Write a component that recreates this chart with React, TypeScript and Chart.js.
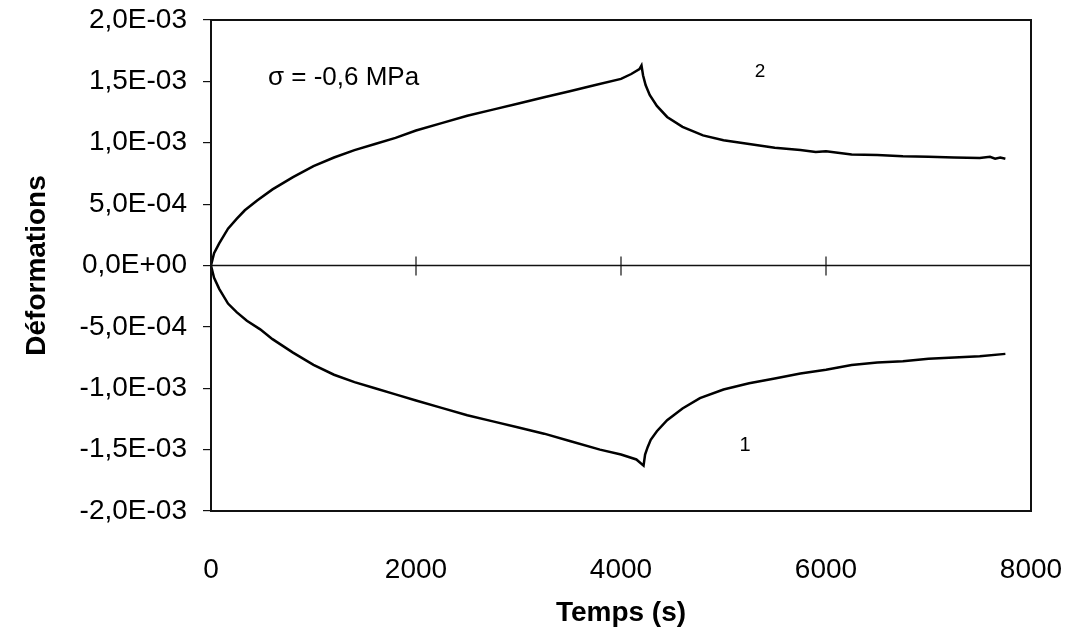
import React, { useEffect, useRef } from "react";
import { Chart, registerables } from "chart.js";

Chart.register(...registerables);

// Series 2 (upper curve), deformation in units of 1e-3
const timesUpper = [0, 30, 80, 166, 250, 330, 450, 600, 800, 1000, 1200, 1400, 1600, 1800, 2000, 2250, 2500, 2750, 3000, 3250, 3500, 3750, 4000, 4100, 4180, 4200, 4215, 4240, 4280, 4350, 4450, 4600, 4800, 5000, 5250, 5500, 5750, 5900, 6000, 6250, 6500, 6750, 7000, 7250, 7500, 7600, 7650, 7700, 7750];
const valuesUpper = [0, 0.10, 0.18, 0.30, 0.38, 0.45, 0.53, 0.62, 0.72, 0.81, 0.88, 0.94, 0.99, 1.04, 1.10, 1.16, 1.22, 1.27, 1.32, 1.37, 1.42, 1.47, 1.52, 1.56, 1.60, 1.63, 1.55, 1.47, 1.39, 1.30, 1.21, 1.13, 1.06, 1.02, 0.99, 0.96, 0.94, 0.925, 0.93, 0.905, 0.90, 0.89, 0.885, 0.88, 0.875, 0.885, 0.87, 0.88, 0.87];

// Series 1 (lower curve), deformation in units of 1e-3
const timesLower = [0, 30, 80, 166, 250, 350, 480, 600, 800, 1000, 1200, 1400, 1600, 1800, 2000, 2250, 2500, 2750, 3000, 3250, 3500, 3795, 4000, 4150, 4220, 4235, 4260, 4290, 4350, 4450, 4600, 4770, 5000, 5250, 5500, 5750, 6000, 6250, 6500, 6750, 7000, 7250, 7500, 7750];
const valuesLower = [0, -0.10, -0.19, -0.31, -0.38, -0.45, -0.52, -0.60, -0.71, -0.81, -0.89, -0.95, -1.00, -1.05, -1.10, -1.16, -1.22, -1.27, -1.32, -1.37, -1.43, -1.50, -1.54, -1.58, -1.63, -1.54, -1.48, -1.42, -1.35, -1.26, -1.165, -1.08, -1.01, -0.96, -0.92, -0.88, -0.85, -0.81, -0.79, -0.78, -0.76, -0.75, -0.74, -0.72];

const UNIT = 1e-3;

const xTicks = [0, 2000, 4000, 6000, 8000];

// Annotations: text, x (s), y (units of 1e-3)
const annotTexts = ["σ = -0,6 MPa", "2", "1"];
const annotX = [556, 5356, 5210];
const annotY = [1.53, 1.58, -1.47];
const annotSizes = [26, 19, 20];

const FONT = "'Liberation Sans', Arial, Helvetica, sans-serif";

function fmtSci(v: number): string {
  if (Math.abs(v) < 1e-12) return "0,0E+00";
  const e = Math.floor(Math.log10(Math.abs(v)) + 1e-9);
  const m = v / Math.pow(10, e);
  return m.toFixed(1).replace(".", ",") + "E" + (e < 0 ? "-" : "+") + String(Math.abs(e)).padStart(2, "0");
}

const framePlugin = {
  id: "frame",
  beforeDatasetsDraw(chart: any) {
    const { ctx, chartArea, scales } = chart;
    const x = scales.x;
    const y = scales.y;
    const y0 = y.getPixelForValue(0);
    ctx.save();
    ctx.strokeStyle = "#111";
    ctx.lineWidth = 1.5;
    ctx.beginPath();
    ctx.moveTo(chartArea.left, y0);
    ctx.lineTo(chartArea.right, y0);
    ctx.stroke();
    ctx.lineWidth = 1.2;
    for (const t of xTicks) {
      if (t === 0 || t === 8000) continue;
      const px = x.getPixelForValue(t);
      ctx.beginPath();
      ctx.moveTo(px, y0 - 9);
      ctx.lineTo(px, y0 + 10);
      ctx.stroke();
    }
    ctx.restore();
  },
  afterDatasetsDraw(chart: any) {
    const { ctx, chartArea, scales } = chart;
    ctx.save();
    ctx.strokeStyle = "#111";
    ctx.lineWidth = 2;
    ctx.strokeRect(chartArea.left, chartArea.top, chartArea.right - chartArea.left, chartArea.bottom - chartArea.top);
    ctx.fillStyle = "#000";
    ctx.textBaseline = "middle";
    for (let i = 0; i < annotTexts.length; i++) {
      ctx.font = `${annotSizes[i]}px ${FONT}`;
      const px = scales.x.getPixelForValue(annotX[i]);
      const py = scales.y.getPixelForValue(annotY[i] * UNIT);
      ctx.textAlign = i === 0 ? "left" : "center";
      ctx.fillText(annotTexts[i], px, py);
    }
    ctx.restore();
  },
};

export default function App() {
  const canvasRef = useRef<HTMLCanvasElement | null>(null);

  useEffect(() => {
    const canvas = canvasRef.current;
    if (!canvas) return;
    const upper = timesUpper.map((t, i) => ({ x: t, y: valuesUpper[i] * UNIT }));
    const lower = timesLower.map((t, i) => ({ x: t, y: valuesLower[i] * UNIT }));
    const chart = new Chart(canvas, {
      type: "line",
      data: {
        datasets: [
          {
            label: "2",
            data: upper,
            borderColor: "#000",
            borderWidth: 2.5,
            pointRadius: 0,
            tension: 0,
            fill: false,
          },
          {
            label: "1",
            data: lower,
            borderColor: "#000",
            borderWidth: 2.5,
            pointRadius: 0,
            tension: 0,
            fill: false,
          },
        ],
      },
      options: {
        animation: false,
        responsive: false,
        layout: { padding: { top: 20, right: 48, left: 0, bottom: 0 } },
        plugins: {
          legend: { display: false },
          tooltip: { enabled: false },
        },
        scales: {
          x: {
            type: "linear",
            position: "bottom",
            min: 0,
            max: 8000,
            afterBuildTicks: (scale: any) => {
              scale.ticks = xTicks.map((v) => ({ value: v }));
            },
            ticks: {
              color: "#000",
              font: { family: FONT, size: 28 },
              padding: 34,
              maxRotation: 0,
              callback: (v: any) => String(v),
            },
            grid: { display: false },
            border: { display: false },
            title: {
              display: true,
              text: "Temps (s)",
              color: "#000",
              font: { family: FONT, size: 28, weight: "bold" },
              padding: { top: 0, bottom: 1 },
            },
            afterFit: (scale: any) => {
              scale.height = 120;
              scale.paddingLeft = 0;
              scale.paddingRight = 0;
            },
          },
          y: {
            type: "linear",
            min: -0.002,
            max: 0.002,
            ticks: {
              stepSize: 0.0005,
              color: "#000",
              font: { family: FONT, size: 28 },
              padding: 16,
              callback: (v: any) => fmtSci(Number(v)),
            },
            grid: {
              drawOnChartArea: false,
              drawTicks: true,
              tickLength: 8,
              color: "#111",
              lineWidth: 1.2,
            },
            border: { display: true, color: "#111", width: 2 },
            title: {
              display: true,
              text: "Déformations",
              color: "#000",
              font: { family: FONT, size: 28, weight: "bold" },
              padding: { top: 20, bottom: 0 },
            },
            afterFit: (scale: any) => {
              scale.width = 211;
              scale.paddingTop = 0;
              scale.paddingBottom = 0;
            },
          },
        },
      },
      plugins: [framePlugin],
    } as any);
    return () => chart.destroy();
  }, []);

  return (
    <div style={{ position: "absolute", left: 0, top: 0, width: 1079, height: 631, background: "#fff" }}>
      <canvas ref={canvasRef} width={1079} height={631} style={{ display: "block" }} />
    </div>
  );
}
